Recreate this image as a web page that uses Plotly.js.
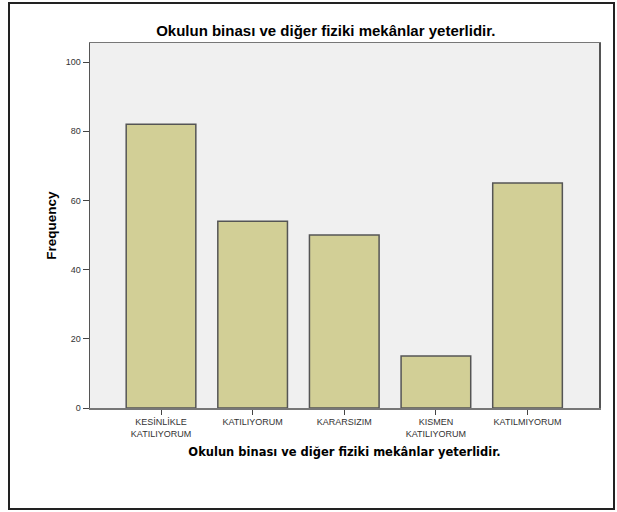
<!DOCTYPE html>
<html>
<head>
<meta charset="utf-8">
<script src="https://cdn.plot.ly/plotly-3.0.1.min.js"></script>
<style>
  body { margin: 0; background: #fff; }
  #chart { position: absolute; left: 0; top: 0; width: 617px; height: 512px; }
  #frame { position: absolute; left: 8px; top: 2px; width: 603px; height: 504px;
           border: 2px solid #222; pointer-events: none; }
</style>
</head>
<body>
<div id="chart"></div>
<div id="frame"></div>
<script>
var categories = ["KESİNLİKLE<br>KATILIYORUM", "KATILIYORUM", "KARARSIZIM",
  "KISMEN<br>KATILIYORUM", "KATILMIYORUM"];
var frequency = [82, 54, 50, 15, 65];
var yTicks = [0, 20, 40, 60, 80, 100];

var chartTitle = "Okulun binası ve diğer fiziki mekânlar yeterlidir.";

var barTrace = {
  x: categories,
  y: frequency,
  type: "bar",
  marker: {
    color: "#d2cf96",
    line: { color: "#555", width: 1.5 }
  },
  hoverinfo: "x+y"
};

var layout = {
  width: 617,
  height: 512,
  margin: { l: 90, r: 18, t: 43, b: 104 },
  paper_bgcolor: "#fff",
  plot_bgcolor: "#f0f0f0",
  bargap: 0.24,
  showlegend: false,
  title: {
    text: chartTitle,
    font: { family: "Liberation Sans, Arial", size: 15, color: "#000", weight: "bold" },
    xref: "container",
    x: 0.528,
    xanchor: "center",
    yref: "container",
    y: 0.94,
    yanchor: "middle"
  },
  xaxis: {
    title: {
      text: chartTitle,
      font: { family: "DejaVu Sans, Verdana", size: 11.5, color: "#000", weight: "bold" },
      standoff: 10
    },
    range: [-0.775, 4.78],
    showline: true,
    linecolor: "#777",
    linewidth: 1.5,
    mirror: true,
    ticks: "outside",
    ticklen: 5,
    tickcolor: "#444",
    tickfont: { family: "Liberation Sans Narrow, Arial Narrow, Arial", size: 9, color: "#333" },
    showgrid: false,
    fixedrange: true
  },
  yaxis: {
    title: {
      text: "Frequency",
      font: { family: "Liberation Sans, Arial", size: 13.5, color: "#000", weight: "bold" },
      standoff: 6
    },
    range: [0, 105.5],
    tickvals: yTicks,
    showline: true,
    linecolor: "#555",
    linewidth: 1.5,
    mirror: true,
    ticks: "outside",
    ticklen: 6,
    tickcolor: "#444",
    tickfont: { family: "Liberation Sans, Arial", size: 9, color: "#333" },
    showgrid: false,
    zeroline: false,
    fixedrange: true
  }
};

Plotly.newPlot("chart", [barTrace], layout, { displayModeBar: false, staticPlot: true });
</script>
</body>
</html>
